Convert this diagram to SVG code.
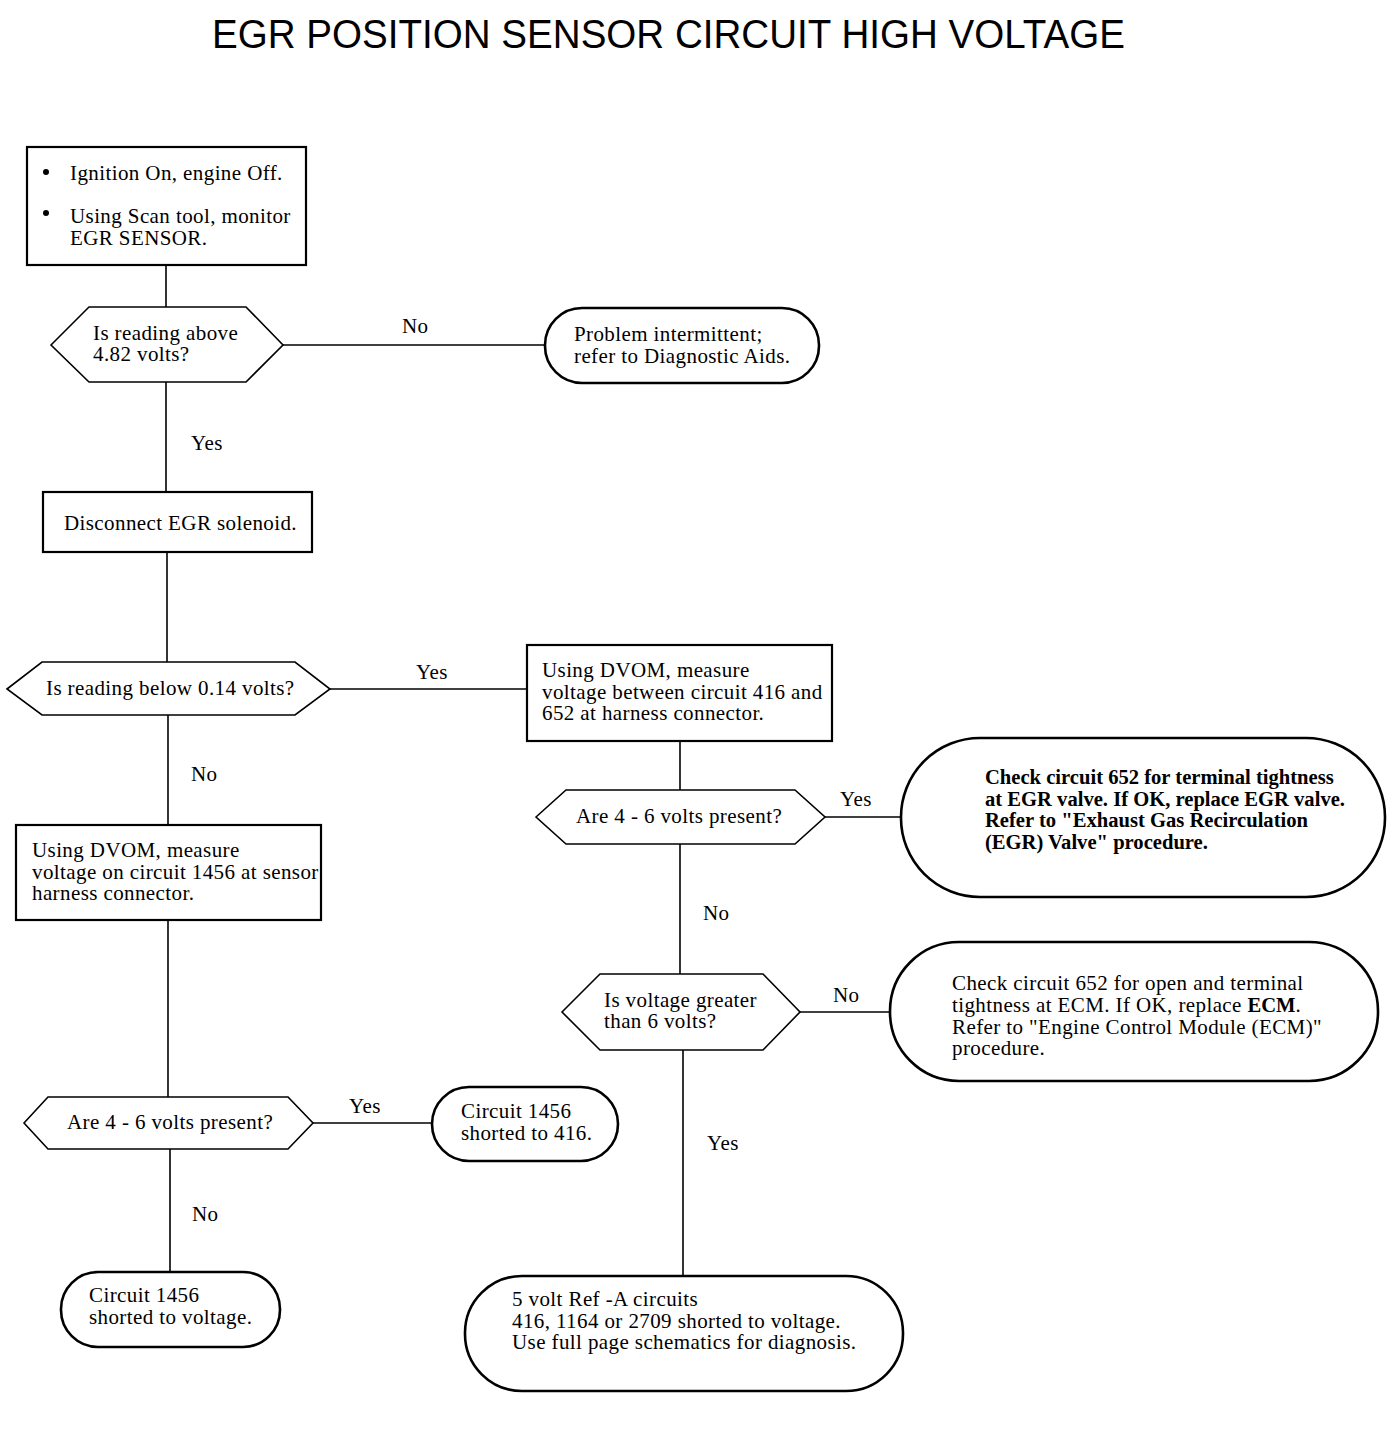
<svg xmlns="http://www.w3.org/2000/svg" width="1392" height="1434" viewBox="0 0 1392 1434">
<style>
.bg{fill:#fff}
.box{fill:#fff;stroke:#000;stroke-width:2.2}
.term{fill:#fff;stroke:#000;stroke-width:2.6}
.hex{fill:#fff;stroke:#000;stroke-width:1.6}
.ln{stroke:#000;stroke-width:1.6;fill:none}
text{font-family:"Liberation Serif","Times New Roman",serif;font-size:21px;letter-spacing:0.4px;fill:#000}
.b{font-weight:bold;font-size:20.6px;letter-spacing:0}
.title{font-family:"Liberation Sans",Arial,sans-serif;font-size:40px;letter-spacing:0}
</style>
<rect class="bg" x="0" y="0" width="1392" height="1434"/>
<text class="title" x="212" y="48" textLength="913" lengthAdjust="spacingAndGlyphs">EGR POSITION SENSOR CIRCUIT HIGH VOLTAGE</text>

<g id="connectors">
<line class="ln" x1="166" y1="265" x2="166" y2="307"/>
<line class="ln" x1="283" y1="345" x2="545" y2="345"/>
<text x="402" y="333">No</text>
<line class="ln" x1="166" y1="382" x2="166" y2="492"/>
<text x="191" y="450">Yes</text>
<line class="ln" x1="167" y1="552" x2="167" y2="662"/>
<line class="ln" x1="330" y1="689" x2="527" y2="689"/>
<text x="416" y="679">Yes</text>
<line class="ln" x1="168" y1="715" x2="168" y2="825"/>
<text x="191" y="781">No</text>
<line class="ln" x1="168" y1="920" x2="168" y2="1097"/>
<line class="ln" x1="313" y1="1123" x2="432" y2="1123"/>
<text x="349" y="1113">Yes</text>
<line class="ln" x1="170" y1="1149" x2="170" y2="1272"/>
<text x="192" y="1221">No</text>
<line class="ln" x1="680" y1="741" x2="680" y2="790"/>
<line class="ln" x1="825" y1="817" x2="901" y2="817"/>
<text x="840" y="806">Yes</text>
<line class="ln" x1="680" y1="844" x2="680" y2="974"/>
<text x="703" y="920">No</text>
<line class="ln" x1="800" y1="1012" x2="890" y2="1012"/>
<text x="833" y="1002">No</text>
<line class="ln" x1="683" y1="1050" x2="683" y2="1276"/>
<text x="707" y="1150">Yes</text>
</g>

<g id="start">
<rect class="box" x="27" y="147" width="279" height="118"/>
<circle cx="46" cy="172" r="3"/>
<circle cx="46" cy="213" r="3"/>
<text x="70" y="180">Ignition On, engine Off.</text>
<text x="70" y="223">Using Scan tool, monitor</text>
<text x="70" y="245">EGR SENSOR.</text>
</g>

<g id="q1">
<polygon class="hex" points="51,345 89,307 246,307 283,345 246,382 89,382"/>
<text x="93" y="340">Is reading above</text>
<text x="93" y="361">4.82 volts?</text>
</g>

<g id="intermittent">
<rect class="term" x="545" y="308" width="274" height="75" rx="37" ry="37"/>
<text x="574" y="341">Problem intermittent;</text>
<text x="574" y="363">refer to Diagnostic Aids.</text>
</g>

<g id="disconnect">
<rect class="box" x="43" y="492" width="269" height="60"/>
<text x="64" y="530">Disconnect EGR solenoid.</text>
</g>

<g id="q2">
<polygon class="hex" points="7,689 42,662 295,662 330,689 295,715 42,715"/>
<text x="46" y="695">Is reading below 0.14 volts?</text>
</g>

<g id="measure416">
<rect class="box" x="527" y="645" width="305" height="96"/>
<text x="542" y="677">Using DVOM, measure</text>
<text x="542" y="699">voltage between circuit 416 and</text>
<text x="542" y="720">652 at harness connector.</text>
</g>

<g id="measure1456">
<rect class="box" x="16" y="825" width="305" height="95"/>
<text x="32" y="857">Using DVOM, measure</text>
<text x="32" y="879">voltage on circuit 1456 at sensor</text>
<text x="32" y="900">harness connector.</text>
</g>

<g id="q4">
<polygon class="hex" points="24,1123 48,1097 288,1097 313,1123 288,1149 48,1149"/>
<text x="67" y="1129">Are 4 - 6 volts present?</text>
</g>

<g id="short416">
<rect class="term" x="432" y="1087" width="186" height="74" rx="37" ry="37"/>
<text x="461" y="1118">Circuit 1456</text>
<text x="461" y="1140">shorted to 416.</text>
</g>

<g id="shortvoltage">
<rect class="term" x="61" y="1272" width="219" height="75" rx="37" ry="37"/>
<text x="89" y="1302">Circuit 1456</text>
<text x="89" y="1324">shorted to voltage.</text>
</g>

<g id="q3">
<polygon class="hex" points="536,817 566,790 795,790 825,817 795,844 566,844"/>
<text x="576" y="823">Are 4 - 6 volts present?</text>
</g>

<g id="egrvalve">
<rect class="term" x="901" y="738" width="484" height="159" rx="79" ry="79"/>
<text class="b" x="985" y="784">Check circuit 652 for terminal tightness</text>
<text class="b" x="985" y="806">at EGR valve. If OK, replace EGR valve.</text>
<text class="b" x="985" y="827">Refer to "Exhaust Gas Recirculation</text>
<text class="b" x="985" y="849">(EGR) Valve" procedure.</text>
</g>

<g id="q5">
<polygon class="hex" points="562,1012 600,974 763,974 800,1012 763,1050 600,1050"/>
<text x="604" y="1007">Is voltage greater</text>
<text x="604" y="1028">than 6 volts?</text>
</g>

<g id="ecm">
<rect class="term" x="890" y="942" width="488" height="139" rx="69" ry="69"/>
<text x="952" y="990">Check circuit 652 for open and terminal</text>
<text x="952" y="1012">tightness at ECM. If OK, replace <tspan class="b">ECM</tspan>.</text>
<text x="952" y="1034">Refer to "Engine Control Module (ECM)"</text>
<text x="952" y="1055">procedure.</text>
</g>

<g id="refA">
<rect class="term" x="465" y="1276" width="438" height="115" rx="57" ry="57"/>
<text x="512" y="1306">5 volt Ref -A circuits</text>
<text x="512" y="1328">416, 1164 or 2709 shorted to voltage.</text>
<text x="512" y="1349">Use full page schematics for diagnosis.</text>
</g>
</svg>
